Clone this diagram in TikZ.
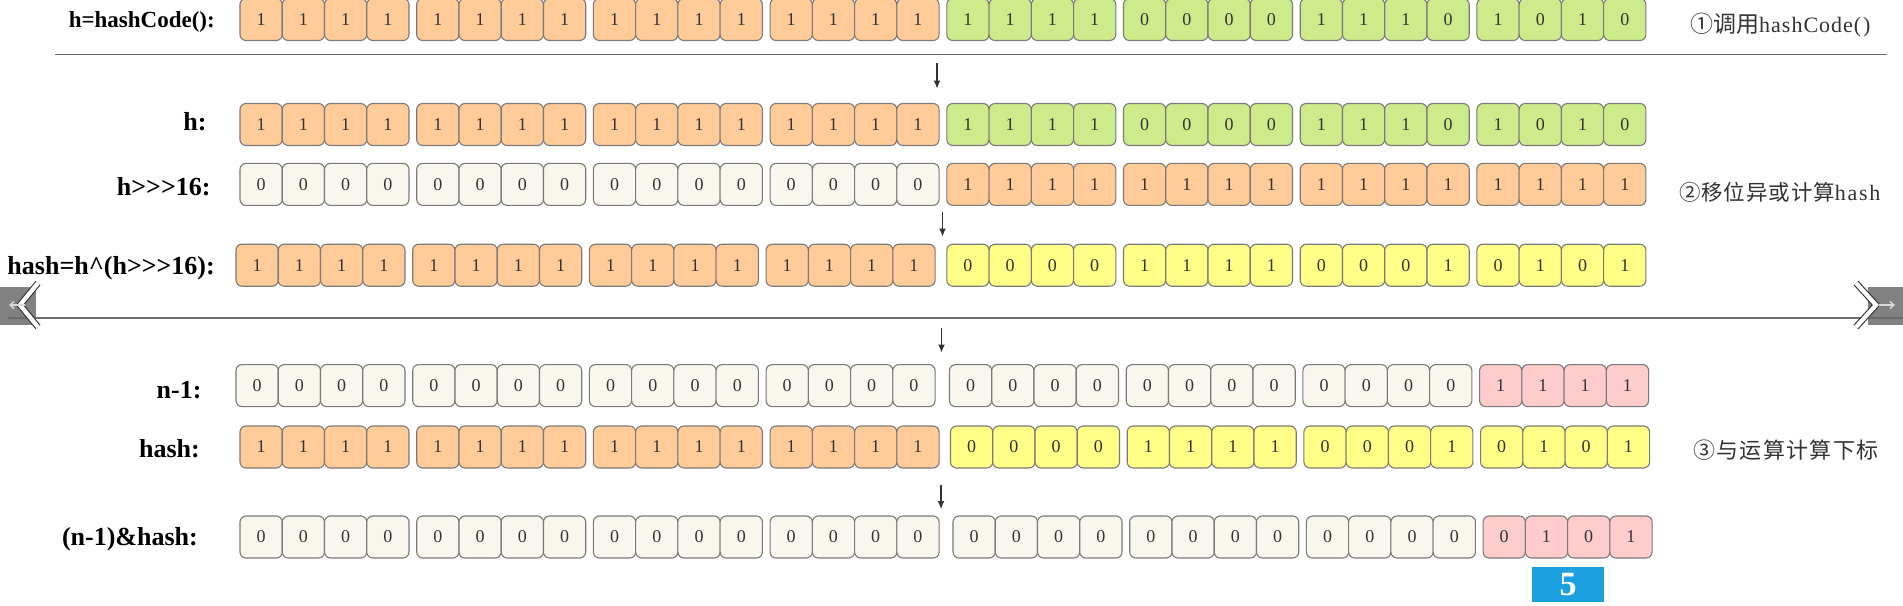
\documentclass[tikz,border=0pt]{standalone}
\usepackage{fontspec}
\setmainfont{Liberation Serif}
\newfontfamily\cjkA{Noto Sans CJK SC}
\newfontfamily\cjkB[LetterSpace=4]{Noto Sans CJK SC}
\newfontfamily\cjkC[LetterSpace=6]{Noto Sans CJK SC}
\newfontfamily\latA[LetterSpace=4.5]{Liberation Serif}
\newfontfamily\latB[LetterSpace=8]{Liberation Serif}
\usetikzlibrary{arrows.meta}
\definecolor{corange}{HTML}{FFCC99}
\definecolor{cgreen}{HTML}{CDEB8B}
\definecolor{cwhite}{HTML}{F9F7ED}
\definecolor{cyellow}{HTML}{FFFF88}
\definecolor{cpink}{HTML}{FFCCCC}
\definecolor{cblue}{HTML}{1BA1E2}
\definecolor{cborder}{HTML}{7A7A7A}
\definecolor{ctext}{HTML}{333333}
\definecolor{cline}{HTML}{6E6E6E}
\definecolor{cnav}{HTML}{6B6B6B}

\tikzset{
  cell/.style={draw=cborder, line width=1.1pt, rounded corners=6pt,
    minimum width=42.25pt, minimum height=42pt, inner sep=0pt,
    text=ctext, font=\fontsize{18}{18}\selectfont},
  lab/.style={anchor=base east, inner sep=0pt, text=black,
    font=\bfseries\fontsize{26}{26}\selectfont},
  note/.style={anchor=base west, inner sep=0pt, text=ctext},
  sepline/.style={draw=cline, line width=1.4pt},
  down/.style={draw=ctext, line width=1.2pt, -{Latex[length=8pt,width=7pt]}},
  fivebox/.style={fill=cblue, minimum width=72.6pt, minimum height=34.7pt,
    inner sep=0pt, text=white, font=\bfseries\fontsize{34}{34}\selectfont},
  navbox/.style={fill=cnav, fill opacity=0.85},
  chevout/.style={draw=black!80, line width=6.5pt, line join=miter},
  chevin/.style={draw=white, line width=4.3pt, line join=miter},
  navarrow/.style={draw=white!85!black, line width=1.4pt, -{Straight Barb[length=4pt,width=7pt]}},
}

% #1 name, #2 y centre, #3 x of left half, #4 x of right half, #5 groups
\newcommand\bitrow[5]{%
  \foreach \gc/\ba/\bb/\bc/\bd [count=\gi from 0] in {#5} {
    \pgfmathsetmacro\gx{\gi<4 ? #3+\gi*176.7 : #4+(\gi-4)*176.7}
    \node[cell, fill=\gc] (#1-\gi-0) at (\gx+21.125, #2) {\ba};
    \node[cell, fill=\gc] (#1-\gi-1) at (\gx+63.375, #2) {\bb};
    \node[cell, fill=\gc] (#1-\gi-2) at (\gx+105.625, #2) {\bc};
    \node[cell, fill=\gc] (#1-\gi-3) at (\gx+147.875, #2) {\bd};
  }%
}

\begin{document}
\begin{tikzpicture}[x=1pt, y=-1pt]
\useasboundingbox (0,0) rectangle (1903,605);
\fill[white] (0,0) rectangle (1903,605);

% separator lines
\coordinate (s1a) at (55,54.3);
\coordinate (s1b) at (1887,54.3);
\coordinate (s2a) at (8,318);
\coordinate (s2b) at (1903,318);
\draw[sepline] (s1a) -- (s1b);
\draw[sepline] (s2a) -- (s2b);

% rows
\bitrow{ra}{19.5}{240}{946.8}{corange/1/1/1/1, corange/1/1/1/1, corange/1/1/1/1, corange/1/1/1/1, cgreen/1/1/1/1, cgreen/0/0/0/0, cgreen/1/1/1/0, cgreen/1/0/1/0}
\bitrow{rb}{124.5}{240}{946.8}{corange/1/1/1/1, corange/1/1/1/1, corange/1/1/1/1, corange/1/1/1/1, cgreen/1/1/1/1, cgreen/0/0/0/0, cgreen/1/1/1/0, cgreen/1/0/1/0}
\bitrow{rc}{184.4}{240}{946.8}{cwhite/0/0/0/0, cwhite/0/0/0/0, cwhite/0/0/0/0, cwhite/0/0/0/0, corange/1/1/1/1, corange/1/1/1/1, corange/1/1/1/1, corange/1/1/1/1}
\bitrow{rd}{265.2}{236}{946.8}{corange/1/1/1/1, corange/1/1/1/1, corange/1/1/1/1, corange/1/1/1/1, cyellow/0/0/0/0, cyellow/1/1/1/1, cyellow/0/0/0/1, cyellow/0/1/0/1}
\bitrow{re}{385.6}{236}{949.5}{cwhite/0/0/0/0, cwhite/0/0/0/0, cwhite/0/0/0/0, cwhite/0/0/0/0, cwhite/0/0/0/0, cwhite/0/0/0/0, cwhite/0/0/0/0, cpink/1/1/1/1}
\bitrow{rf}{447}{240}{950.5}{corange/1/1/1/1, corange/1/1/1/1, corange/1/1/1/1, corange/1/1/1/1, cyellow/0/0/0/0, cyellow/1/1/1/1, cyellow/0/0/0/1, cyellow/0/1/0/1}
\bitrow{rg}{537}{240}{953}{cwhite/0/0/0/0, cwhite/0/0/0/0, cwhite/0/0/0/0, cwhite/0/0/0/0, cwhite/0/0/0/0, cwhite/0/0/0/0, cwhite/0/0/0/0, cpink/0/1/0/1}

% row labels
\node[lab, font=\bfseries\fontsize{23}{23}\selectfont] (la) at (215,27.3) {h=hashCode():};
\node[lab] (lb) at (206.7,130.7) {h:};
\node[lab] (lc) at (210.7,195.7) {h>{}>{}>16:};
\node[lab] (ld) at (215,274) {hash=h\textasciicircum(h>{}>{}>16):};
\node[lab] (le) at (201.7,398) {n-1:};
\node[lab] (lf) at (200,457) {hash:};
\node[lab] (lg) at (198,545) {(n-1)\&hash:};

% step notes
\node[note] (na) at (1690,32.7) {{\cjkA\fontsize{23}{23}\selectfont ①调用}{\latA\fontsize{22}{22}\selectfont hashCode(\kern2pt)}};
\node[note] (nb) at (1679,200.5) {{\cjkB\fontsize{21.5}{21.5}\selectfont ②移位异或计算}{\latB\fontsize{22}{22}\selectfont hash}};
\node[note] (nc) at (1693,458.5) {\cjkC\fontsize{22}{22}\selectfont ③与运算计算下标};

% arrows
\coordinate (a1s) at (937,63);   \coordinate (a1e) at (937,88.5);
\coordinate (a2s) at (942.5,212); \coordinate (a2e) at (942.5,236.5);
\coordinate (a3s) at (941.5,328); \coordinate (a3e) at (941.5,352.5);
\coordinate (a4s) at (941,485);  \coordinate (a4e) at (941,509);
\draw[down] (a1s) -- (a1e);
\draw[down] (a2s) -- (a2e);
\draw[down] (a3s) -- (a3e);
\draw[down] (a4s) -- (a4e);

% result index
\node[fivebox] (five) at (1568,584.3) {5};

% navigation overlays
\fill[navbox] (0,286.5) rectangle (36,324.5);
\fill[navbox] (1867.5,286.5) rectangle (1903,324.5);
\coordinate (cl1) at (38,283); \coordinate (cl2) at (20,305); \coordinate (cl3) at (38,327);
\coordinate (cr1) at (1856,283); \coordinate (cr2) at (1876,305); \coordinate (cr3) at (1856,327);
\draw[chevout] (cl1) -- (cl2) -- (cl3);
\draw[chevin] (cl1) -- (cl2) -- (cl3);
\draw[chevout] (cr1) -- (cr2) -- (cr3);
\draw[chevin] (cr1) -- (cr2) -- (cr3);
\coordinate (al1) at (25,305); \coordinate (al2) at (9,305);
\coordinate (ar1) at (1879,305); \coordinate (ar2) at (1895,305);
\draw[navarrow] (al1) -- (al2);
\draw[navarrow] (ar1) -- (ar2);
\end{tikzpicture}
\end{document}
